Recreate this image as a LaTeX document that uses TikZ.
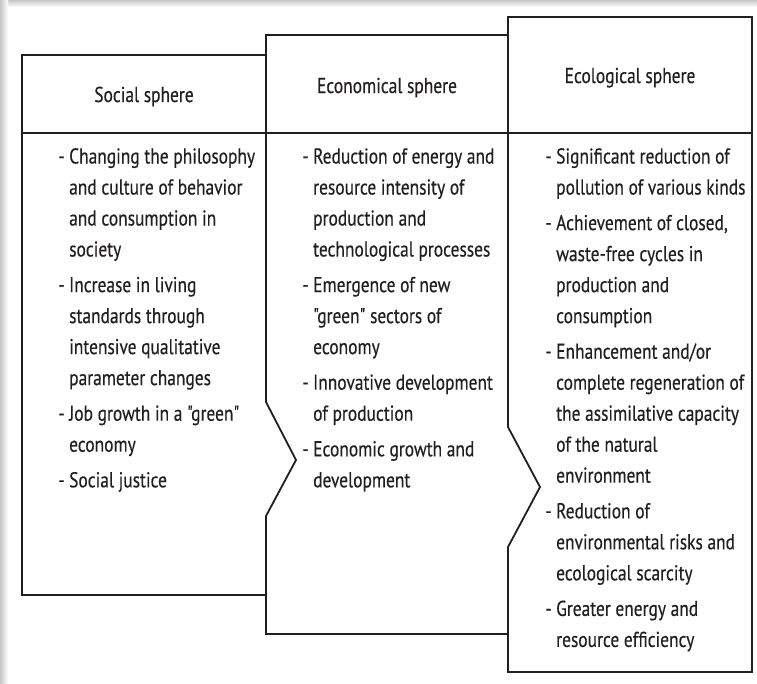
\documentclass[tikz,border=0pt]{standalone}
\usepackage{fontspec}
\setmainfont{PT Sans}[FakeStretch=0.81, FakeBold=0.35, Ligatures=TeXOff]
\usetikzlibrary{calc}

\definecolor{ink}{HTML}{231F20}

% one bullet line: dash hangs to the left of the text column
\newcommand{\bitem}{\llap{- }}
% gap added between two bullets
\newcommand{\bgap}{\\[4.6pt]}

\tikzset{
  frame/.style={draw=ink, line width=1.8pt, line join=miter},
  headtext/.style={inner sep=0pt, anchor=base, text=ink,
    font=\fontsize{21.5}{31}\selectfont},
  listtext/.style={inner sep=0pt, anchor=base west, text=ink,
    font=\fontsize{21.5}{31}\selectfont},
}

\begin{document}
\begin{tikzpicture}[x=1pt, y=-1pt]
  \useasboundingbox (0,0) rectangle (757,683);
  \fill[white] (0,0) rectangle (757,683);

  % soft grey edge along the top and the left
  \shade[top color=black!22, bottom color=white] (0,0) rectangle (757,7);
  \shade[left color=black!22, right color=white] (0,0) rectangle (8,683);

  % social sphere box, its right side pointing into the next box
  \draw[frame] (22,55) -- (266,55) -- (266,402) -- (296,460) -- (266,516)
    -- (266,595) -- (22,595) -- cycle;
  \draw[frame] (22,133) -- (266,133);

  % economical sphere box
  \draw[frame] (266,402) -- (266,35) -- (508,35) -- (508,427) -- (540,487)
    -- (508,547) -- (508,634) -- (266,634) -- (266,516);
  \draw[frame] (266,133) -- (508,133);

  % ecological sphere box
  \draw[frame] (508,427) -- (508,17) -- (752,17) -- (752,672) -- (508,672)
    -- (508,547);
  \draw[frame] (508,133) -- (752,133);

  % headings
  \node[headtext] (soc-head) at (144,102) {Social sphere};
  \node[headtext] (eco-head) at (387,93) {Economical sphere};
  \node[headtext] (env-head) at (630,83) {Ecological sphere};

  % lists
  \node[listtext] (soc-list) at (69,163.5) {%
    \begin{tabular}[t]{@{}l@{}}
      \bitem Changing the philosophy\\
      and culture of behavior\\
      and consumption in\\
      society\bgap
      \bitem Increase in living\\
      standards through\\
      intensive qualitative\\
      parameter changes\bgap
      \bitem Job growth in a "green"\\
      economy\bgap
      \bitem Social justice
    \end{tabular}};

  \node[listtext] (eco-list) at (313,163.5) {%
    \begin{tabular}[t]{@{}l@{}}
      \bitem Reduction of energy and\\
      resource intensity of\\
      production and\\
      technological processes\bgap
      \bitem Emergence of new\\
      "green" sectors of\\
      economy\bgap
      \bitem Innovative development\\
      of production\bgap
      \bitem Economic growth and\\
      development
    \end{tabular}};

  \node[listtext] (env-list) at (556,163.5) {%
    \begin{tabular}[t]{@{}l@{}}
      \bitem Significant reduction of\\
      pollution of various kinds\bgap
      \bitem Achievement of closed,\\
      waste-free cycles in\\
      production and\\
      consumption\bgap
      \bitem Enhancement and/or\\
      complete regeneration of\\
      the assimilative capacity\\
      of the natural\\
      environment\bgap
      \bitem Reduction of\\
      environmental risks and\\
      ecological scarcity\bgap
      \bitem Greater energy and\\
      resource efficiency
    \end{tabular}};
\end{tikzpicture}
\end{document}
